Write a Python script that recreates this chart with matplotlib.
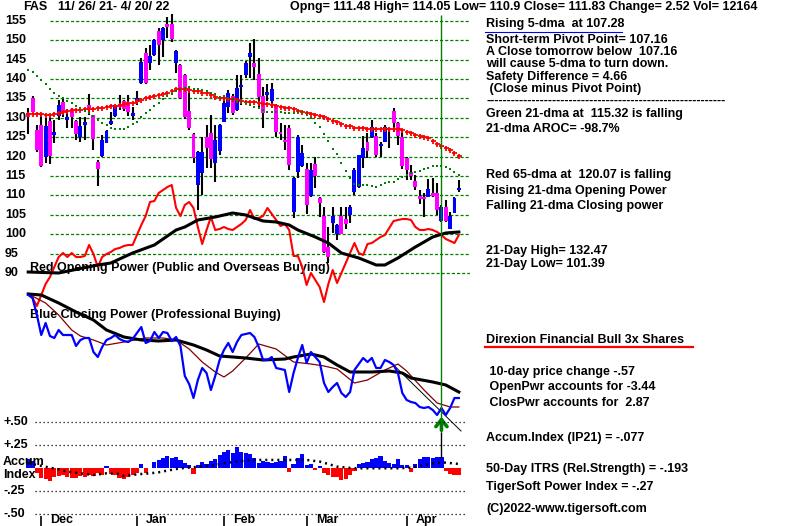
import matplotlib
matplotlib.use("Agg")
import matplotlib.pyplot as plt
import matplotlib.transforms as mtransforms
from matplotlib.lines import Line2D

W, H = 800, 526
plt.rcParams['font.family'] = ['Liberation Sans', 'DejaVu Sans']
plt.rcParams['font.weight'] = 'bold'

# ---- daily bars 11/26/21 - 4/20/22 (index 0..99) ----
opens = [131.2, 135.0, 126.9, 128.1, 120.0, 129.2, 125.6, 130.5, 134.0, 129.4,
         132.0, 129.3, 125.0, 128.1, 133.3, 130.6, 118.7, 120.2, 123.6, 128.4,
         130.5, 133.5, 134.3, 133.9, 130.4, 134.1, 139.0, 146.6, 144.2, 146.1,
         152.4, 150.0, 154.1, 154.1, 144.2, 143.6, 141.0, 131.8, 125.8, 112.7,
         115.9, 125.1, 126.0, 118.4, 121.5, 129.0, 132.9, 135.6, 132.0, 138.0,
         141.0, 145.7, 144.2, 141.3, 135.6, 135.8, 134.4, 133.3, 126.4, 124.3,
         127.5, 105.8, 116.1, 117.6, 116.7, 109.9, 118.1, 109.3, 104.8, 96.8,
         102.8, 100.1, 104.7, 103.9, 105.0, 111.0, 112.3, 119.6, 123.8, 125.1,
         125.3, 122.8, 123.8, 127.3, 131.7, 128.7, 125.1, 119.6, 116.1, 113.7,
         109.9, 109.7, 109.7, 110.7, 110.6, 103.4, 107.1, 101.4, 105.6, 111.48]
highs = [132.4, 135.6, 128.1, 130.7, 129.9, 130.3, 129.4, 134.6, 135.0, 132.2,
         132.4, 129.5, 130.3, 130.3, 136.1, 130.8, 119.1, 125.6, 126.8, 131.6,
         133.4, 135.9, 134.5, 135.9, 132.9, 136.9, 145.3, 147.9, 148.7, 150.2,
         153.0, 153.4, 156.0, 156.7, 147.5, 143.8, 141.2, 138.0, 126.0, 121.5,
         125.1, 128.1, 130.7, 128.1, 128.3, 135.3, 137.2, 136.2, 141.0, 141.0,
         144.7, 149.3, 150.2, 145.5, 138.0, 138.7, 138.9, 133.5, 128.6, 128.1,
         128.1, 114.8, 125.6, 123.0, 118.3, 118.3, 120.0, 109.5, 107.1, 102.0,
         107.1, 102.6, 107.1, 107.1, 107.5, 117.0, 120.4, 125.3, 126.0, 129.4,
         126.0, 123.8, 128.1, 127.5, 132.47, 128.9, 126.9, 120.0, 117.8, 115.3,
         111.4, 110.6, 114.2, 114.4, 113.3, 107.5, 108.8, 105.8, 109.7, 114.05]
lows = [125.8, 131.5, 121.3, 117.4, 118.3, 118.2, 123.4, 129.4, 130.3, 127.5,
        127.3, 124.3, 123.8, 124.3, 130.7, 121.7, 112.5, 120.0, 123.4, 128.1,
        130.3, 132.0, 131.8, 130.5, 129.5, 133.3, 138.8, 138.8, 142.3, 146.0,
        143.6, 145.7, 150.5, 149.6, 141.5, 134.8, 129.8, 126.9, 118.3, 106.3,
        110.1, 117.0, 117.0, 113.5, 120.3, 128.8, 131.2, 130.8, 131.8, 133.3,
        140.2, 140.2, 139.7, 132.9, 127.5, 134.4, 132.4, 125.1, 124.3, 121.7,
        116.6, 104.2, 114.4, 117.4, 105.2, 109.7, 111.8, 104.5, 95.3, 92.5,
        100.3, 98.5, 100.0, 101.4, 102.8, 110.1, 112.0, 117.0, 119.6, 124.7,
        120.0, 120.0, 123.8, 122.1, 126.4, 123.0, 116.8, 114.0, 114.0, 111.4,
        107.7, 104.4, 109.5, 109.5, 105.0, 103.2, 103.2, 101.39, 105.4, 110.9]
closes = [130.3, 131.6, 121.7, 117.6, 127.9, 120.2, 126.3, 133.4, 131.6, 130.2,
          130.3, 125.8, 127.9, 128.9, 132.4, 124.5, 116.8, 124.3, 126.6, 129.1,
          133.2, 132.8, 132.3, 131.6, 131.2, 135.2, 144.4, 139.0, 145.8, 150.0,
          148.7, 153.0, 153.3, 150.4, 147.3, 135.0, 130.1, 127.3, 119.6, 121.3,
          121.3, 122.1, 119.3, 124.3, 128.1, 133.9, 136.3, 131.2, 137.6, 138.4,
          144.0, 146.6, 143.0, 135.3, 131.2, 136.6, 137.3, 126.4, 125.8, 123.8,
          117.8, 114.4, 125.1, 120.9, 107.5, 116.6, 115.1, 108.1, 95.5, 94.2,
          104.7, 102.4, 100.1, 102.6, 107.1, 116.6, 120.4, 122.1, 121.5, 127.7,
          120.4, 123.1, 127.7, 126.8, 128.7, 125.3, 117.7, 116.6, 115.1, 112.3,
          109.1, 109.0, 111.6, 109.9, 106.3, 107.1, 103.5, 104.8, 109.3, 111.83]

# red 65-dma and green 21-dma
ma65 = [131.0, 131.0, 131.0, 130.9, 130.8, 130.8, 130.9, 131.2, 131.5, 131.8,
        131.9, 132.0, 132.1, 132.2, 132.2, 132.3, 132.4, 132.6, 132.8, 133.0,
        133.1, 133.3, 133.5, 133.7, 133.9, 134.4, 134.7, 135.0, 135.3, 135.6,
        135.9, 136.2, 136.5, 136.8, 137.4, 137.4, 137.4, 137.2, 137.0, 136.8,
        136.5, 136.3, 135.9, 135.4, 135.1, 135.0, 134.9, 134.8, 134.5, 134.2,
        134.1, 134.1, 134.0, 133.8, 133.6, 133.5, 133.3, 133.1, 132.9, 132.6,
        132.4, 132.2, 131.8, 131.5, 131.2, 131.0, 130.7, 130.5, 130.1, 129.6,
        129.2, 128.8, 128.3, 128.0, 127.8, 127.5, 127.4, 127.3, 127.2, 127.2,
        127.2, 127.2, 127.2, 127.2, 127.1, 127.0, 126.9, 126.4, 126.0, 125.6,
        125.3, 125.0, 124.7, 124.0, 123.2, 122.7, 122.1, 121.6, 120.9, 120.07]
ma21 = [142.4, 141.7, 140.8, 139.7, 138.6, 137.4, 136.3, 135.7, 135.0, 134.4,
        133.9, 133.0, 132.4, 131.8, 131.2, 130.5, 129.4, 128.7, 128.2, 127.5,
        127.1, 127.0, 127.2, 127.6, 128.3, 128.9, 130.2, 131.2, 132.0, 133.0,
        133.8, 134.9, 135.6, 136.2, 136.9, 137.5, 137.8, 138.0, 137.5, 137.3,
        137.2, 136.9, 136.5, 136.0, 135.4, 135.5, 135.2, 134.8, 134.4, 134.0,
        133.7, 133.2, 132.8, 132.4, 132.0, 131.6, 131.6, 131.5, 131.5, 131.3,
        131.2, 131.3, 131.5, 131.6, 130.9, 129.9, 128.7, 127.7, 125.9, 124.0,
        122.0, 120.6, 118.4, 116.2, 114.5, 113.0, 112.7, 112.6, 112.6, 112.5,
        112.3, 112.6, 113.2, 113.4, 113.5, 114.3, 114.8, 115.3, 115.7, 116.1,
        116.4, 116.7, 117.2, 117.5, 117.5, 117.5, 117.4, 116.7, 116.0, 115.32]

# opening power (red) and its moving average (black), chart units
op_power = [26, 22, 14, 25, 36, 43, 53, 63, 67, 63,
            67, 63, 63, 64, 75, 66, 53, 63, 66, 68,
            71, 72, 74, 75, 75, 85, 95, 104, 118, 119,
            127, 130, 133, 135, 112, 104, 115, 118, 112, 93,
            76, 90, 103, 90, 91, 93, 91, 90, 93, 96,
            100, 110, 101, 102, 104, 112, 106, 100, 94, 96,
            90, 64, 64, 53, 35, 47, 40, 33, 18, 36,
            50, 37, 47, 57, 67, 77, 67, 65, 76, 77,
            80, 83, 85, 92, 99, 100, 101, 101, 100, 93,
            90, 90, 91, 90, 88, 85, 81, 79, 77, 85]
op_ma_x = [0, 7, 16, 19, 24, 29, 34, 36, 39, 43, 47, 50, 54, 57,
           60, 62, 66, 69, 72, 76, 80, 82, 85, 89, 93, 96, 99]
op_ma = [48, 47, 55, 57, 67, 75, 90, 93, 100, 103, 107, 105, 99, 98,
         95, 90, 83, 77, 67, 62, 55, 55, 62, 73, 83, 87, 88]

# closing power (blue) and its two moving averages, chart units
cp_power = [165, 162, 145, 125, 137, 124, 122, 130, 125, 125,
            125, 114, 120, 122, 122, 108, 103, 113, 120, 122,
            125, 121, 119, 118, 121, 127, 133, 117, 119, 128,
            122, 128, 127, 119, 123, 114, 84, 76, 62, 80,
            92, 87, 70, 84, 100, 110, 117, 108, 118, 125,
            126, 127, 123, 113, 100, 100, 103, 92, 91, 90,
            68, 87, 102, 115, 97, 108, 103, 98, 77, 68,
            73, 77, 67, 63, 68, 90, 96, 102, 98, 102,
            92, 92, 100, 98, 95, 87, 67, 60, 58, 57,
            53, 52, 53, 50, 45, 52, 45, 52, 62, 62]
cp_fast_x = [0, 4, 7, 10, 12, 15, 18, 22, 27, 31, 34, 37, 40, 43, 45, 47, 50,
             53, 57, 61, 65, 68, 71, 73, 75, 78, 82, 85, 87, 91, 94, 97, 99]
cp_fast = [166, 157, 145, 130, 124, 120, 115, 118, 122, 122, 120, 111, 98, 88, 83, 89, 102,
           116, 111, 98, 96, 94, 91, 84, 77, 80, 90, 96, 89, 70, 57, 53, 53]
cp_slow_x = [0, 3, 7, 11, 15, 18, 22, 26, 30, 34, 38, 41, 44, 47, 50,
             54, 59, 61, 65, 68, 71, 74, 79, 83, 86, 88, 93, 96, 99]
cp_slow = [166, 165, 157, 148, 140, 130, 123, 120, 119, 120, 115, 110, 104, 103, 102,
           100, 101, 103, 106, 103, 95, 88, 88, 89, 87, 82, 78, 75, 68]
trend_x = [83.5, 99.5]
trend_v = [97, 29]

# accumulation index (IP21) and its moving average
accum = [0.10, 0.084, -0.055, -0.109, -0.120, -0.135, -0.098, -0.084, -0.073, -0.098,
         -0.109, -0.102, -0.084, -0.091, -0.076, -0.084, -0.055, -0.073, 0.025, -0.066,
         -0.073, -0.102, -0.120, -0.098, -0.073, -0.055, 0.047, -0.047, 0.007, 0.073,
         0.091, 0.109, 0.135, 0.109, 0.127, 0.091, 0.062, 0.036, -0.066, 0.036,
         0.073, 0.047, 0.084, 0.098, 0.146, 0.182, 0.200, 0.164, 0.229, 0.182,
         0.171, 0.153, 0.109, 0.062, 0.084, 0.073, 0.062, 0.073, 0.084, 0.135,
         -0.036, 0.047, 0.109, 0.156, 0.036, 0.047, -0.018, 0.025, -0.055, -0.073,
         -0.098, -0.098, -0.127, -0.120, -0.073, -0.025, 0.047, 0.062, 0.073, 0.098,
         0.109, 0.135, 0.084, 0.062, 0.047, 0.098, 0.036, 0.036, -0.036, 0.047,
         0.098, 0.120, 0.120, 0.109, 0.120, 0.127, -0.025, -0.062, -0.073, -0.077]
accum_ma_x = [0, 2, 5, 7, 9, 12, 15, 18, 21, 22, 25, 28, 30, 32, 35, 38, 41, 43,
              45, 48, 51, 57, 61, 64, 67, 69, 71, 75, 81, 85, 88, 91, 94, 96, 99]
accum_ma = [0.06, 0.036, 0.007, -0.011, -0.036, -0.055, -0.073, -0.055, -0.062, -0.084,
            -0.066, -0.055, -0.044, -0.025, 0.0, 0.011, 0.025, 0.036, 0.055, 0.073,
            0.091, 0.091, 0.091, 0.091, 0.073, 0.047, 0.018, 0.0, 0.0, 0.0,
            0.007, 0.036, 0.062, 0.062, 0.047]

price_ticks = [155, 150, 145, 140, 135, 130, 125, 120, 115, 110, 105, 100, 95, 90]
accum_ticks = [0.50, 0.25, -0.25, -0.50]
accum_tick_labels = ['+.50', '+.25', '-.25', '-.50']
months = ['Dec', 'Jan', 'Feb', 'Mar', 'Apr']
month_start = [3, 25, 45, 64, 87]
signal_day = 95

right_notes = [
    (24, 'Rising 5-dma  at 107.28'),
    (40, 'Short-term Pivot Point= 107.16'),
    (52, 'A Close tomorrow below  107.16'),
    (64, 'will cause 5-dma to turn down.'),
    (77, 'Safety Difference = 4.66'),
    (89, ' (Close minus Pivot Point)'),
    (101, '-' * 58),
    (114, 'Green 21-dma at  115.32 is falling'),
    (129, '21-dma AROC= -98.7%'),
    (175, 'Red 65-dma at  120.07 is falling'),
    (191, 'Rising 21-dma Opening Power'),
    (206, 'Falling 21-dma Closing power'),
    (251, '21-Day High= 132.47'),
    (264, '21-Day Low= 101.39'),
    (340, 'Direxion Financial Bull 3x Shares'),
    (372, ' 10-day price change -.57'),
    (387, ' OpenPwr accounts for -3.44'),
    (403, ' ClosPwr accounts for  2.87'),
    (438, 'Accum.Index (IP21) = -.077'),
    (469, '50-Day ITRS (Rel.Strength) = -.193'),
    (487, 'TigerSoft Power Index = -.27'),
    (509, '(C)2022-www.tigersoft.com'),
]

FS = 9
GREEN = '#008000'


def fx(px):
    return px / W


def fy(py):
    return 1 - py / H


def make_axes(fig, ylim):
    a = fig.add_axes([0, 0, 470 / W, 1])
    a.set_xlim(-28.2 / 4.35, (470 - 28.2) / 4.35)
    a.set_ylim(*ylim)
    a.axis('off')
    a.patch.set_alpha(0)
    return a


fig = plt.figure(figsize=(W / 100, H / 100), dpi=100)
fig.patch.set_facecolor('white')

# price panel
ax = make_axes(fig, (24.90, 160.33))
lab = mtransforms.blended_transform_factory(fig.transFigure, ax.transData)
for p in price_ticks:
    start = 313 if p == 90 else 50
    ax.axhline(p, xmin=start / 470, xmax=1, color=GREEN, lw=0.9,
               ls=(0, (2.5, 1.6)), zorder=1)
    ax.text(fx(5), p, str(p), transform=lab, fontsize=FS, ha='left',
            va='center', zorder=2)

idx = list(range(len(closes)))
ax.vlines(idx, lows, highs, color='black', lw=1.5, zorder=3)
body_lo = [min(o, c) for o, c in zip(opens, closes)]
body_h = [max(abs(c - o), 0.45) for o, c in zip(opens, closes)]
body_col = ['#0000ff' if c >= o else '#ff00ff' for o, c in zip(opens, closes)]
ax.bar(idx, body_h, bottom=body_lo, width=0.9, color=body_col, zorder=4)
ax.plot(idx, ma65, ls='none', marker='+', ms=3.6, mew=1.3, color='#ff0000', zorder=5)
ax.plot(idx, ma21, ls='none', marker='s', ms=2.0, mew=0, color=GREEN, zorder=5)

ax.text(fx(30), 100 - (268 - 234.3) / 3.884,
        'Red Opening Power (Public and Overseas Buying)', transform=lab,
        fontsize=FS, va='center', ha='left', zorder=2,
        bbox=dict(facecolor='white', edgecolor='none', pad=0.5))
ax.text(fx(30), 100 - (315 - 234.3) / 3.884,
        'Blue Closing Power (Professional Buying)', transform=lab,
        fontsize=FS, va='center', ha='left', zorder=2)

# opening power panel
ax_op = make_axes(fig, (-206, 320))
ax_op.plot(idx, op_power, color='#ff0000', lw=1.5)
ax_op.plot(op_ma_x, op_ma, color='black', lw=2.2)

# closing power panel
ax_cp = make_axes(fig, (-66, 460))
ax_cp.plot(trend_x, trend_v, color='black', lw=0.7)
ax_cp.plot(cp_fast_x, cp_fast, color='#800000', lw=0.9)
ax_cp.plot(cp_slow_x, cp_slow, color='black', lw=2.2)
ax_cp.plot(idx, cp_power, color='#0000ff', lw=1.6)
ax_cp.vlines(signal_day, 460 - 432, 460 - 15, color=GREEN, lw=1.0)
ax_cp.annotate('', xy=(signal_day, 460 - 414), xytext=(signal_day, 460 - 433),
               arrowprops=dict(arrowstyle='->,head_length=0.5,head_width=0.4',
                               color=GREEN, lw=2.6))

# accumulation index panel
ax_acc = make_axes(fig, (-0.630, 5.112))
acc_lab = mtransforms.blended_transform_factory(fig.transFigure, ax_acc.transData)
for v, t in zip(accum_ticks, accum_tick_labels):
    ax_acc.axhline(v, xmin=35 / 470, xmax=465 / 470, color='black', lw=0.9,
                   ls=(0, (1, 2.2)))
    ax_acc.text(fx(3), v, t, transform=acc_lab, fontsize=FS, va='center', ha='left')
acc_col = ['#0000ff' if a >= 0 else '#ff0000' for a in accum]
ax_acc.bar(idx, accum, width=0.95, color=acc_col, zorder=2)
ax_acc.plot(accum_ma_x, accum_ma, color='black', lw=1.8, ls=(0, (0.8, 1.6)), zorder=3)
ax_acc.vlines(signal_day, 0.112, 0.396, color='black', lw=1.0)
fig.text(fx(3), fy(462), 'Accum', fontsize=FS, va='center', ha='left')
fig.text(fx(3), fy(475), 'Index', fontsize=FS, va='center', ha='left')

for m, s in zip(months, month_start):
    ax_acc.vlines(s, -0.63, -0.52, color='black', lw=1.2)
    ax_acc.text(s + 2.1, -0.568, m, fontsize=FS, va='center', ha='left')

# header
fig.text(fx(23), fy(7), 'FAS', fontsize=FS, va='center', ha='left')
fig.text(fx(58), fy(7), '11/ 26/ 21- 4/ 20/ 22', fontsize=FS, va='center', ha='left')
fig.text(fx(290), fy(7),
         'Opng= 111.48 High= 114.05 Low= 110.9 Close= 111.83 Change= 2.52 Vol= 12164',
         fontsize=FS, va='center', ha='left')

# right-hand notes
for y, t in right_notes:
    fig.text(fx(486), fy(y), t, fontsize=FS, va='center', ha='left')
fig.add_artist(Line2D([fx(485), fx(622)], [fy(31.7), fy(31.7)], color='#0000ff', lw=0.8))
fig.add_artist(Line2D([fx(485), fx(693)], [fy(347), fy(347)], color='#ff0000', lw=1.6))

fig.savefig('out.png', dpi=100, facecolor='white')
